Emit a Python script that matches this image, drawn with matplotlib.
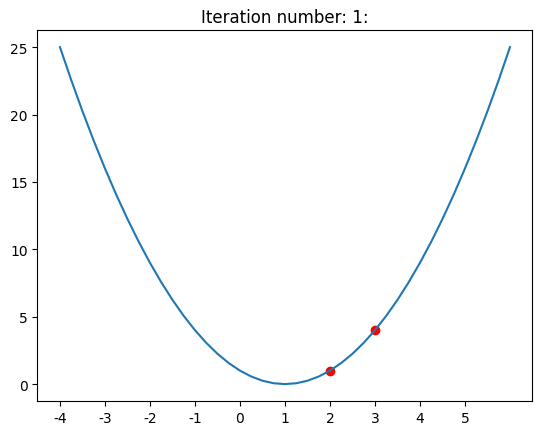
import matplotlib
matplotlib.use("Agg")
import matplotlib.pyplot as plt

# curve values, every quarter step from -4 to 6
x_vals = [-4.0, -3.75, -3.5, -3.25, -3.0, -2.75, -2.5, -2.25, -2.0, -1.75,
          -1.5, -1.25, -1.0, -0.75, -0.5, -0.25, 0.0, 0.25, 0.5, 0.75,
          1.0, 1.25, 1.5, 1.75, 2.0, 2.25, 2.5, 2.75, 3.0, 3.25,
          3.5, 3.75, 4.0, 4.25, 4.5, 4.75, 5.0, 5.25, 5.5, 5.75, 6.0]
y_vals = [25.0, 22.5625, 20.25, 18.0625, 16.0, 14.0625, 12.25, 10.5625, 9.0, 7.5625,
          6.25, 5.0625, 4.0, 3.0625, 2.25, 1.5625, 1.0, 0.5625, 0.25, 0.0625,
          0.0, 0.0625, 0.25, 0.5625, 1.0, 1.5625, 2.25, 3.0625, 4.0, 5.0625,
          6.25, 7.5625, 9.0, 10.5625, 12.25, 14.0625, 16.0, 18.0625, 20.25, 22.5625, 25.0]

# red points
pt_x = [2, 3]
pt_y = [1, 4]

tick_pos = [-4, -3, -2, -1, 0, 1, 2, 3, 4, 5]
tick_labels = [str(t) for t in tick_pos]

fig = plt.figure(figsize=(5.43, 4.35), dpi=100)
ax = fig.add_axes([0.069, 0.076, 0.9116, 0.852])
ax.scatter(pt_x, pt_y, color="red")
ax.plot(x_vals, y_vals)
ax.set_xticks(tick_pos)
ax.set_xticklabels(tick_labels)
ax.set_title("Iteration number: 1:")
fig.savefig("out.png", dpi=100)
